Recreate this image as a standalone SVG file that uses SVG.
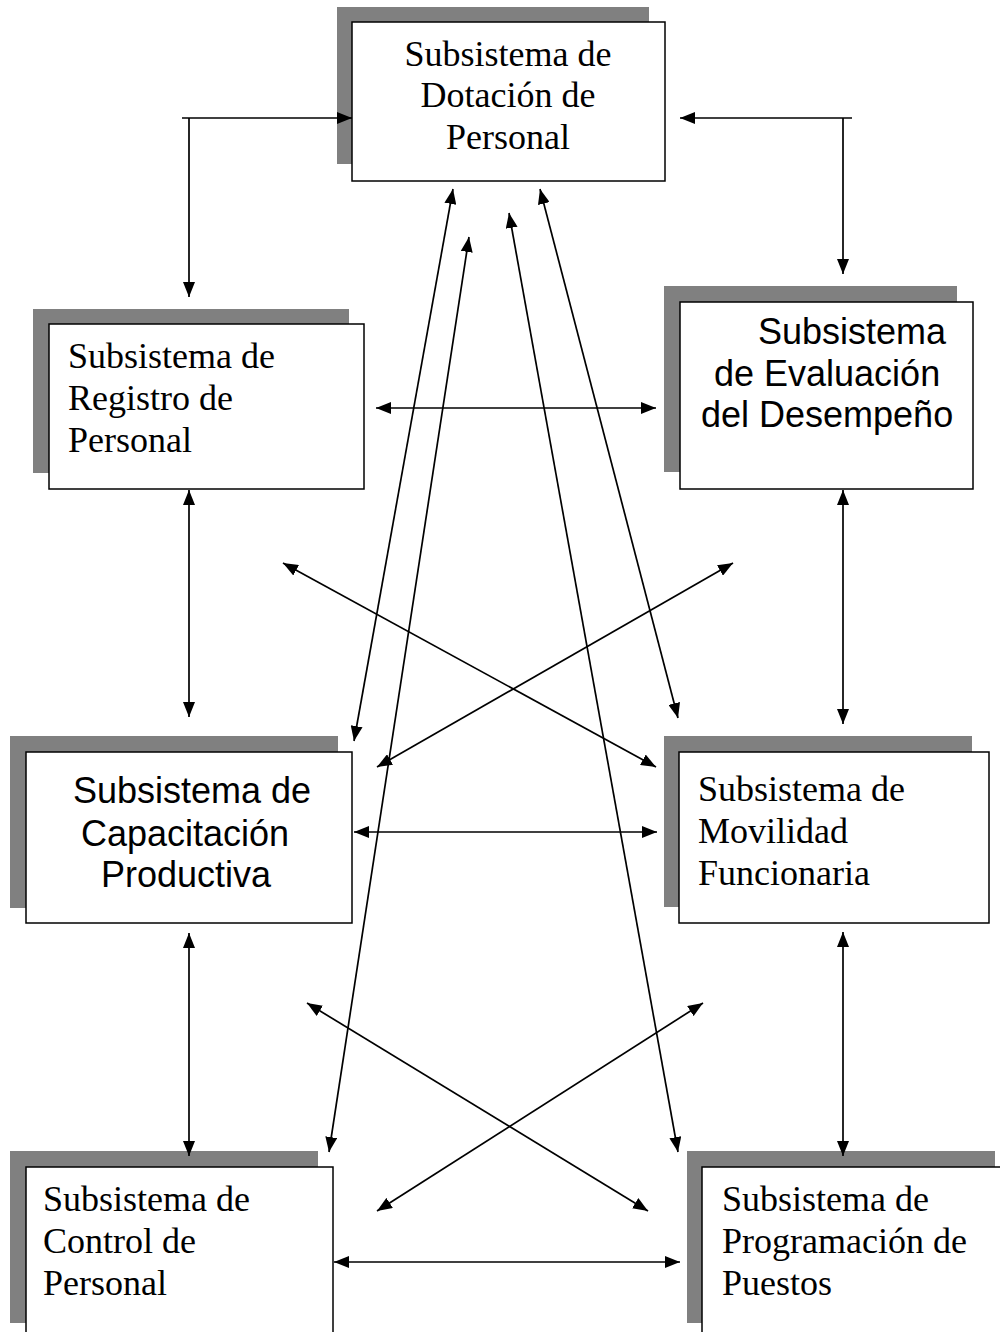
<svg xmlns="http://www.w3.org/2000/svg" width="1000" height="1332" viewBox="0 0 1000 1332">
<defs>
<style>
.shadow{fill:#808080;stroke:none}
.box{fill:#fff;stroke:#000;stroke-width:1.5}
.serif{font-family:"Liberation Serif","Times New Roman",serif;font-size:36px;fill:#000}
.sans{font-family:"Liberation Sans",Arial,sans-serif;font-size:36px;fill:#000}
.c{fill:none;stroke:#000;stroke-width:1.7}
</style>
<marker id="ah" viewBox="0 0 15 12" refX="15" refY="6" markerWidth="15" markerHeight="12" markerUnits="userSpaceOnUse" orient="auto-start-reverse">
<path d="M0,0 L15,6 L0,12 z" fill="#000"/>
</marker>
</defs>
<rect width="1000" height="1332" fill="#fff"/>

<g id="n-dotacion">
<rect class="shadow" x="337" y="7" width="312" height="157"/>
<rect class="box" x="352" y="22" width="313" height="159"/>
<text class="serif" text-anchor="middle"><tspan x="508" y="66">Subsistema de</tspan><tspan x="508" y="107">Dotación de</tspan><tspan x="508" y="149">Personal</tspan></text>
</g>

<g id="n-registro">
<rect class="shadow" x="33" y="309" width="316" height="164"/>
<rect class="box" x="49" y="324" width="315" height="165"/>
<text class="serif"><tspan x="68" y="368">Subsistema de</tspan><tspan x="68" y="410">Registro de</tspan><tspan x="68" y="452">Personal</tspan></text>
</g>

<g id="n-evaluacion">
<rect class="shadow" x="664" y="286" width="293" height="186"/>
<rect class="box" x="680" y="302" width="293" height="187"/>
<text class="sans"><tspan x="758" y="344">Subsistema</tspan><tspan x="714" y="386">de Evaluación</tspan><tspan x="701" y="427">del Desempeño</tspan></text>
</g>

<g id="n-capacitacion">
<rect class="shadow" x="10" y="736" width="328" height="172"/>
<rect class="box" x="26" y="752" width="326" height="171"/>
<text class="sans"><tspan x="73" y="803">Subsistema de</tspan><tspan x="81" y="846">Capacitación</tspan><tspan x="101" y="887">Productiva</tspan></text>
</g>

<g id="n-movilidad">
<rect class="shadow" x="664" y="736" width="308" height="171"/>
<rect class="box" x="679" y="752" width="310" height="171"/>
<text class="serif"><tspan x="698" y="801">Subsistema de</tspan><tspan x="698" y="843">Movilidad</tspan><tspan x="698" y="885">Funcionaria</tspan></text>
</g>

<g id="n-control">
<rect class="shadow" x="10" y="1151" width="308" height="172"/>
<rect class="box" x="26" y="1167" width="307" height="200"/>
<text class="serif"><tspan x="43" y="1211">Subsistema de</tspan><tspan x="43" y="1253">Control de</tspan><tspan x="43" y="1295">Personal</tspan></text>
</g>

<g id="n-programacion">
<rect class="shadow" x="687" y="1151" width="308" height="172"/>
<rect class="box" x="702" y="1167" width="320" height="200"/>
<text class="serif"><tspan x="722" y="1211">Subsistema de</tspan><tspan x="722" y="1253">Programación de</tspan><tspan x="722" y="1295">Puestos</tspan></text>
</g>

<g id="connectors">
<line class="c" x1="182" y1="118" x2="352" y2="118" marker-end="url(#ah)"/>
<line class="c" x1="189" y1="118" x2="189" y2="297" marker-end="url(#ah)"/>
<line class="c" x1="852" y1="118" x2="680" y2="118" marker-end="url(#ah)"/>
<line class="c" x1="843" y1="118" x2="843" y2="274" marker-end="url(#ah)"/>
<line class="c" x1="376" y1="408" x2="656" y2="408" marker-start="url(#ah)" marker-end="url(#ah)"/>
<line class="c" x1="189" y1="490" x2="189" y2="717" marker-start="url(#ah)" marker-end="url(#ah)"/>
<line class="c" x1="843" y1="490" x2="843" y2="724" marker-start="url(#ah)" marker-end="url(#ah)"/>
<line class="c" x1="354" y1="832" x2="657" y2="832" marker-start="url(#ah)" marker-end="url(#ah)"/>
<line class="c" x1="189" y1="933" x2="189" y2="1156" marker-start="url(#ah)" marker-end="url(#ah)"/>
<line class="c" x1="843" y1="932" x2="843" y2="1156" marker-start="url(#ah)" marker-end="url(#ah)"/>
<line class="c" x1="334" y1="1262" x2="680" y2="1262" marker-start="url(#ah)" marker-end="url(#ah)"/>
<line class="c" x1="283" y1="563" x2="656" y2="767" marker-start="url(#ah)" marker-end="url(#ah)"/>
<line class="c" x1="733" y1="563" x2="377" y2="767" marker-start="url(#ah)" marker-end="url(#ah)"/>
<line class="c" x1="307" y1="1003" x2="648" y2="1211" marker-start="url(#ah)" marker-end="url(#ah)"/>
<line class="c" x1="703" y1="1003" x2="377" y2="1211" marker-start="url(#ah)" marker-end="url(#ah)"/>
<line class="c" x1="453" y1="189" x2="354" y2="741" marker-start="url(#ah)" marker-end="url(#ah)"/>
<line class="c" x1="469" y1="237" x2="329" y2="1152" marker-start="url(#ah)" marker-end="url(#ah)"/>
<line class="c" x1="509" y1="213" x2="678" y2="1152" marker-start="url(#ah)" marker-end="url(#ah)"/>
<line class="c" x1="540" y1="189" x2="678" y2="718" marker-start="url(#ah)" marker-end="url(#ah)"/>
</g>
</svg>
